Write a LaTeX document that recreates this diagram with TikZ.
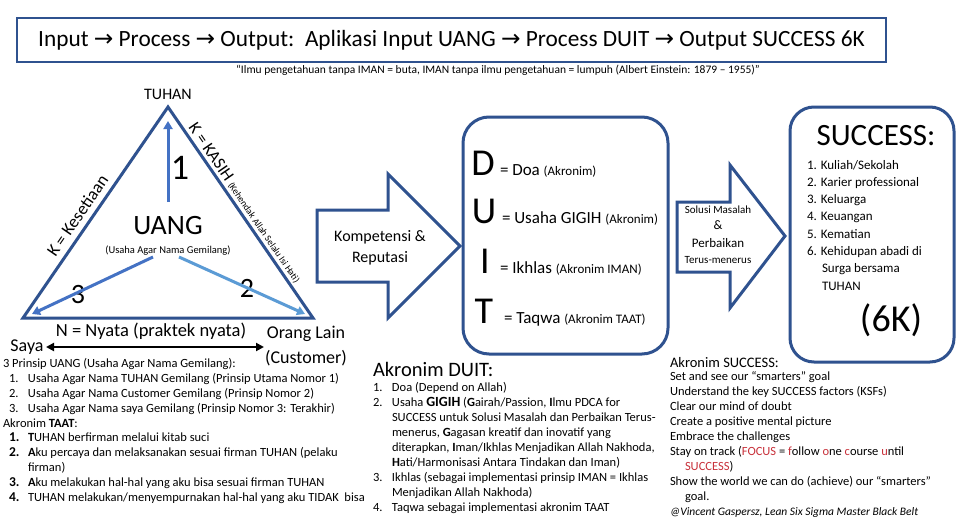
\documentclass[tikz,border=0pt]{standalone}
\usepackage{fontspec}
\setmainfont{Carlito}
\newfontfamily\arrfont{DejaVu Sans}
\usetikzlibrary{arrows.meta}
\definecolor{dkblue}{HTML}{2F528F}
\definecolor{midblue}{HTML}{4472C4}
\definecolor{ltblue}{HTML}{5B9BD5}
\definecolor{focusred}{HTML}{C8303A}
\newcommand\fsz[1]{\fontsize{#1}{#1}\selectfont}
\newcommand\titlearrow{{\arrfont\char"2192}}
\newcommand\bnum[1]{\hspace*{6pt}\makebox[19pt][l]{\fontsize{13.5}{14.8}\selectfont\bfseries #1}}
\newcommand\pnum[1]{\hspace*{6pt}\makebox[19pt][l]{#1}}
\newcommand\rd[1]{\textcolor{focusred}{#1}}
\begin{document}
\begin{tikzpicture}[x=1pt,y=-1pt,
  every node/.style={inner sep=0pt, outer sep=0pt},
  blockarrow/.style={draw=dkblue, line width=3pt, fill=white, line join=miter},
  roundbox/.style={draw=dkblue, line width=3pt},
  innerarrow/.style={line width=3pt, -{Triangle[length=8pt,width=9pt]}}]
\fill[white] (0,0) rectangle (960,530);
\useasboundingbox (0,0) rectangle (960,530);

% title
\node[draw=dkblue, line width=1.8pt, minimum width=869pt, minimum height=44pt, font=\fsz{23.3}] (title) at (451.5,40)
  {Input \titlearrow{} Process \titlearrow{} Output:\ \ Aplikasi Input UANG \titlearrow{} Process DUIT \titlearrow{} Output SUCCESS 6K};
\node[font=\fsz{11.5}] (quote) at (498,70) {“Ilmu pengetahuan tanpa IMAN = buta, IMAN tanpa ilmu pengetahuan = lumpuh (Albert Einstein: 1879 – 1955)”};

% triangle
\coordinate (T) at (168,107);
\coordinate (L) at (23,318);
\coordinate (R) at (313,318);
\draw[dkblue, line width=3pt, line join=miter] (T) -- (L) -- (R) -- cycle;
\node[font=\fsz{16}] (tuhan) at (168,94) {TUHAN};
\path (L) -- (T) node[pos=0.45, sloped, above=7pt, font=\fsz{17.5}] (kes) {K = Kesetiaan};
\path (T) -- (R) node[pos=0.48, sloped, above=3.5pt] (kasih) {\fsz{17}K = KASIH \fsz{9.5}(Kehendak Allah Selalu Isi Hati)};

\node[font=\fsz{28}] (uang) at (168,226) {UANG};
\node[font=\fsz{10.5}] (uangsub) at (168,251) {(Usaha Agar Nama Gemilang)};
\node[font=\fsz{36}] (n1) at (180,168) {1};
\node[font=\fsz{28}] (n2) at (247,288) {2};
\node[font=\fsz{28}] (n3) at (78,295) {3};

\coordinate (a1s) at (168,202);
\coordinate (a1e) at (168,121);
\coordinate (a3s) at (153,257);
\coordinate (a3e) at (32,314);
\coordinate (a2s) at (179,257);
\coordinate (a2e) at (305,314);
\draw[innerarrow, midblue] (a1s) -- (a1e);
\draw[innerarrow, midblue] (a3s) -- (a3e);
\draw[innerarrow, ltblue] (a2s) -- (a2e);

\node[font=\fsz{18.5}] (nyata) at (151,331) {N = Nyata (praktek nyata)};
\node[font=\fsz{18}] (saya) at (27,347) {Saya};
\node[font=\fsz{18}] (orang) at (306,334) {Orang Lain};
\node[font=\fsz{18}] (cust) at (306,358) {(Customer)};
\coordinate (dl) at (46,347);
\coordinate (dr) at (264,347);
\draw[black, line width=2pt, {Triangle[length=8pt,width=8pt]}-{Triangle[length=8pt,width=8pt]}] (dl) -- (dr);

% left text
\node[anchor=north west, align=left, font=\fontsize{12.5}{14.8}\selectfont] (prinsip) at (3,357.6) {%
\strut 3 Prinsip UANG (Usaha Agar Nama Gemilang):\\
\pnum{1.}Usaha Agar Nama TUHAN Gemilang (Prinsip Utama Nomor 1)\\
\pnum{2.}Usaha Agar Nama Customer Gemilang (Prinsip Nomor 2)\\
\pnum{3.}Usaha Agar Nama saya Gemilang (Prinsip Nomor 3: Terakhir)\\
Akronim \textbf{TAAT}:\\
\bnum{1.}\textbf{T}UHAN berfirman melalui kitab suci\\
\bnum{2.}\textbf{A}ku percaya dan melaksanakan sesuai firman TUHAN (pelaku\\
\hspace*{25pt}firman)\\
\bnum{3.}\textbf{A}ku melakukan hal-hal yang aku bisa sesuai firman TUHAN\\
\bnum{4.}TUHAN melakukan/menyempurnakan hal-hal yang aku TIDAK\ \ bisa};

% Kompetensi arrow
\draw[blockarrow] (317,210) -- (388,210) -- (388,174) -- (460,246) -- (388,318) -- (388,282) -- (317,282) -- cycle;
\node[align=center, font=\fontsize{16}{21}\selectfont] (komp) at (380,248) {Kompetensi \&\\Reputasi};

% DUIT box
\node[roundbox, rounded corners=26pt, minimum width=205pt, minimum height=237pt] (duitbox) at (565.5,235.5) {};
\node[anchor=base, font=\fsz{38}] (dD) at (483,175) {D};
\node[anchor=base west, font=\fsz{17}] (dDt) at (500,175) {= Doa {\fsz{13}(Akronim)}};
\node[anchor=base, font=\fsz{38}] (dU) at (484,223) {U};
\node[anchor=base west, font=\fsz{17}] (dUt) at (502,223) {= Usaha GIGIH {\fsz{13}(Akronim)}};
\node[anchor=base, font=\fsz{38}] (dI) at (485,273) {I};
\node[anchor=base west, font=\fsz{17}] (dIt) at (500,273) {= Ikhlas {\fsz{13}(Akronim IMAN)}};
\node[anchor=base, font=\fsz{38}] (dT) at (484,323) {T};
\node[anchor=base west, font=\fsz{17}] (dTt) at (504,323) {= Taqwa {\fsz{13}(Akronim TAAT)}};

% middle text
\node[anchor=base west, font=\fsz{20.5}] (akduit) at (373,376) {Akronim DUIT:};
\node[anchor=north west, align=left, font=\fontsize{12.5}{15}\selectfont] (duitlist) at (373,380.5) {%
\strut\makebox[19pt][l]{1.}Doa (Depend on Allah)\\
\makebox[19pt][l]{2.}Usaha {\fontsize{14}{15}\selectfont\bfseries GIGIH} (\textbf{G}airah/Passion, \textbf{I}lmu PDCA for\\
\hspace*{19pt}SUCCESS untuk Solusi Masalah dan Perbaikan Terus-\\
\hspace*{19pt}menerus, \textbf{G}agasan kreatif dan inovatif yang\\
\hspace*{19pt}diterapkan, \textbf{I}man/Ikhlas Menjadikan Allah Nakhoda,\\
\hspace*{19pt}\textbf{H}ati/Harmonisasi Antara Tindakan dan Iman)\\
\makebox[19pt][l]{3.}Ikhlas (sebagai implementasi prinsip IMAN = Ikhlas\\
\hspace*{19pt}Menjadikan Allah Nakhoda)\\
\makebox[19pt][l]{4.}Taqwa sebagai implementasi akronim TAAT};

% second arrow
\draw[blockarrow] (677,202) -- (730,202) -- (730,165) -- (785,236) -- (730,308) -- (730,272) -- (677,272) -- cycle;
\node[anchor=base, font=\fsz{11}] (sol1) at (718,213) {Solusi Masalah};
\node[anchor=base, font=\fsz{13}] (sol2) at (718,229) {\&};
\node[anchor=base, font=\fsz{13}] (sol3) at (718,247) {Perbaikan};
\node[anchor=base, font=\fsz{11}] (sol4) at (718,263) {Terus-menerus};

% SUCCESS box
\node[roundbox, rounded corners=24pt, minimum width=164pt, minimum height=255pt] (succbox) at (872,234.5) {};
\node[anchor=base, font=\fsz{31}] (succtitle) at (876,145) {SUCCESS:};
\node[anchor=north west, align=left, font=\fontsize{13}{17.3}\selectfont] (succitems) at (807,156.9) {%
\strut 1. Kuliah/Sekolah\\
2. Karier professional\\
3. Keluarga\\
4. Keuangan\\
5. Kematian\\
6. Kehidupan abadi di\\
\hspace*{15pt}Surga bersama\\
\hspace*{15pt}TUHAN};
\node[font=\fsz{38}] (sixk) at (891,320) {(6K)};

% right text
\node[anchor=base west, font=\fsz{14.5}] (aksucc) at (670,367) {Akronim SUCCESS:};
\node[anchor=north west, align=left, font=\fontsize{12.5}{15}\selectfont] (succlist) at (670,369.5) {%
\strut Set and see our “smarters” goal\\
Understand the key SUCCESS factors (KSFs)\\
Clear our mind of doubt\\
Create a positive mental picture\\
Embrace the challenges\\
Stay on track (\rd{FOCUS} = \rd{f}ollow \rd{o}ne \rd{c}ourse \rd{u}ntil\\
\hspace*{15pt}\rd{SUCCESS})\\
Show the world we can do (achieve) our “smarters”\\
\hspace*{15pt}goal.\\
{\fontsize{11.5}{15}\selectfont\itshape @Vincent Gaspersz, Lean Six Sigma Master Black Belt}};
\end{tikzpicture}
\end{document}
